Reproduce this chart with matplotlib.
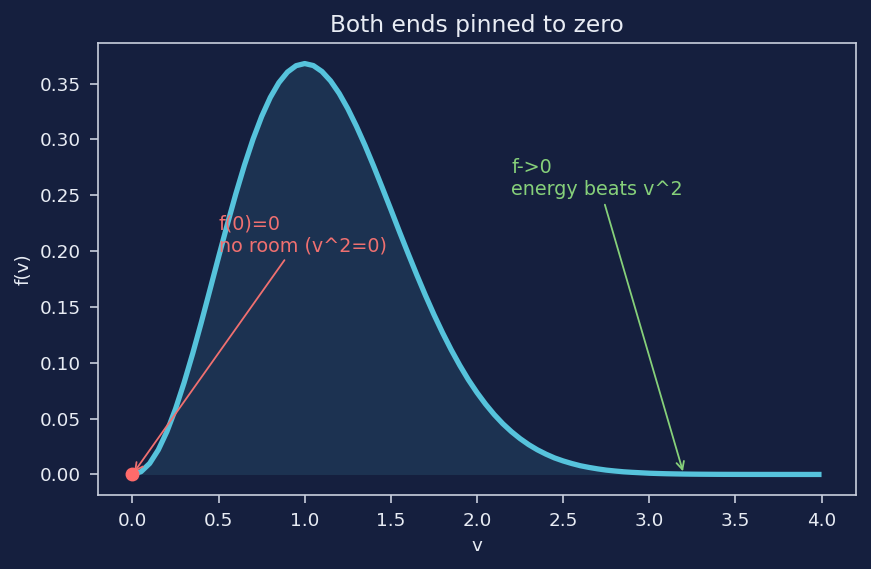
import matplotlib
matplotlib.use("Agg")
import matplotlib.pyplot as plt

v = [0.00, 0.05, 0.10, 0.15, 0.20, 0.25, 0.30, 0.35, 0.40, 0.45,
     0.50, 0.55, 0.60, 0.65, 0.70, 0.75, 0.80, 0.85, 0.90, 0.95,
     1.00, 1.05, 1.10, 1.15, 1.20, 1.25, 1.30, 1.35, 1.40, 1.45,
     1.50, 1.55, 1.60, 1.65, 1.70, 1.75, 1.80, 1.85, 1.90, 1.95,
     2.00, 2.05, 2.10, 2.15, 2.20, 2.25, 2.30, 2.35, 2.40, 2.45,
     2.50, 2.55, 2.60, 2.65, 2.70, 2.75, 2.80, 2.85, 2.90, 2.95,
     3.00, 3.05, 3.10, 3.15, 3.20, 3.25, 3.30, 3.35, 3.40, 3.45,
     3.50, 3.55, 3.60, 3.65, 3.70, 3.75, 3.80, 3.85, 3.90, 3.95, 4.00]
f = [0.0, 0.0025, 0.0099, 0.0220, 0.0384, 0.0587, 0.0823, 0.1084, 0.1363, 0.1654,
     0.1947, 0.2235, 0.2512, 0.2769, 0.3002, 0.3205, 0.3375, 0.3508, 0.3603, 0.3660,
     0.3679, 0.3661, 0.3608, 0.3524, 0.3412, 0.3275, 0.3118, 0.2946, 0.2761, 0.2568,
     0.2372, 0.2173, 0.1979, 0.1789, 0.1606, 0.1432, 0.1269, 0.1117, 0.0977, 0.0848,
     0.0733, 0.0629, 0.0536, 0.0454, 0.0383, 0.0321, 0.0267, 0.0221, 0.0182, 0.0148,
     0.0121, 0.0098, 0.0078, 0.0063, 0.0050, 0.0039, 0.0031, 0.0024, 0.0019, 0.0015,
     0.0011, 0.00085, 0.00064, 0.00049, 0.00036, 0.00027, 0.0002, 0.00015, 0.0001, 0.00008,
     0.00006, 0.00004, 0.00003, 0.00002, 0.00002, 0.00001, 0.00001, 0.00001, 0.0, 0.0, 0.0]

title = "Both ends pinned to zero"
xlabel = "v"
ylabel = "f(v)"
note_left = "f(0)=0\nno room (v^2=0)"
note_right = "f->0\nenergy beats v^2"

bg = "#151f3e"
fg = "#e8ecf4"
spine = "#c9cfdd"
line_c = "#56c3dc"
red = "#f07070"
green = "#86d07a"

fig = plt.figure(figsize=(8.71, 5.69), dpi=100, facecolor=bg)
ax = fig.add_axes([98/871, 1-495/569, (856-98)/871, (495-43)/569])
ax.set_facecolor(bg)

ax.fill_between(v, 0, f, color=line_c, alpha=0.12, linewidth=0)
ax.plot(v, f, color=line_c, lw=3.8, solid_capstyle='butt', solid_joinstyle='round')
ax.plot([v[0]], [f[0]], 'o', color="#ff6b6b", ms=9, zorder=5)

ax.annotate(note_left, xy=(0.0, 0.0), xytext=(0.5, 0.2), color=red, fontsize=13.8,
            arrowprops=dict(arrowstyle="->", color=red, lw=1.3))
ax.annotate(note_right, xy=(3.2, 0.0004), xytext=(2.2, 0.25), color=green, fontsize=13.8,
            arrowprops=dict(arrowstyle="->", color=green, lw=1.3))

ax.set_title(title, color=fg, fontsize=16.8, pad=8)
ax.set_xlabel(xlabel, color=fg, fontsize=13.2, labelpad=5)
ax.set_ylabel(ylabel, color=fg, fontsize=13.2, labelpad=5)
ax.set_xticks([0.0, 0.5, 1.0, 1.5, 2.0, 2.5, 3.0, 3.5, 4.0])
ax.set_yticks([0.0, 0.05, 0.10, 0.15, 0.20, 0.25, 0.30, 0.35])
ax.tick_params(colors=spine, labelcolor=fg, labelsize=13.2, length=6, width=1.2, pad=6.5)
for s in ax.spines.values():
    s.set_color(spine)
    s.set_linewidth(1.2)

fig.savefig("out.png", dpi=100, facecolor=bg)
